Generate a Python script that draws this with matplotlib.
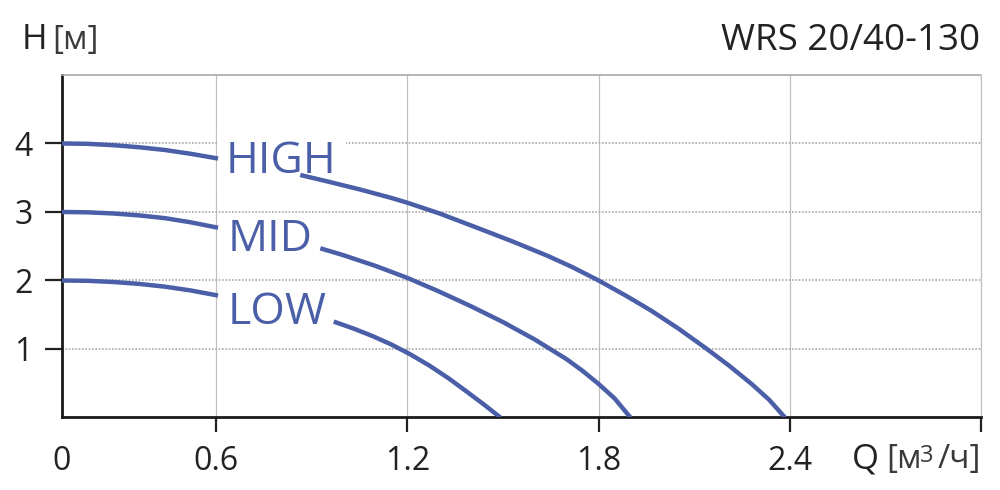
import numpy as np
import matplotlib
matplotlib.use('Agg')
import matplotlib.pyplot as plt

plt.rcParams['font.family'] = ['Open Sans', 'DejaVu Sans']

# Pump curves (Q in m3/h, H in m); each curve is broken at its label
high_q1 = [0.0, 0.1, 0.2, 0.3, 0.4, 0.5, 0.606]
high_h1 = [4.0, 3.995, 3.975, 3.945, 3.905, 3.85, 3.78]
high_q2 = [0.864, 0.95, 1.05, 1.15, 1.2, 1.3, 1.43, 1.53, 1.64, 1.72, 1.8,
           1.885, 1.965, 2.05, 2.14, 2.21, 2.28, 2.335, 2.385]
high_h2 = [3.54, 3.445, 3.33, 3.205, 3.135, 2.98, 2.75, 2.57, 2.36, 2.19, 2.0,
           1.78, 1.56, 1.30, 1.0, 0.755, 0.49, 0.26, 0.0]

mid_q1 = [0.0, 0.1, 0.2, 0.3, 0.4, 0.5, 0.606]
mid_h1 = [3.0, 2.995, 2.978, 2.95, 2.91, 2.85, 2.77]
mid_q2 = [0.927, 1.0, 1.1, 1.2, 1.3, 1.4, 1.5, 1.6, 1.7, 1.75, 1.8, 1.85, 1.9]
mid_h2 = [2.47, 2.368, 2.213, 2.038, 1.838, 1.623, 1.393, 1.138, 0.85, 0.68,
          0.49, 0.28, 0.0]

low_q1 = [0.0, 0.1, 0.2, 0.3, 0.4, 0.5, 0.606]
low_h1 = [2.0, 1.995, 1.978, 1.95, 1.91, 1.855, 1.78]
low_q2 = [0.969, 1.03, 1.09, 1.15, 1.21, 1.27, 1.33, 1.39, 1.44, 1.492]
low_h2 = [1.40, 1.30, 1.19, 1.065, 0.92, 0.755, 0.57, 0.365, 0.19, 0.0]

x_ticks = [0, 0.6, 1.2, 1.8, 2.4, 3.0]
x_labels = ['0', '0.6', '1.2', '1.8', '2.4', '']
y_ticks = [1, 2, 3, 4]

blue = '#4a5fa8'
dark = '#222222'
grey = '#3a3a3a'

# first interval (0..0.6) is drawn narrower than the others
k = 0.806
def fwd(q):
    q = np.asarray(q, dtype=float)
    return np.where(q <= 0.6, q * k, q - 0.6 * (1 - k))
def inv(u):
    u = np.asarray(u, dtype=float)
    return np.where(u <= 0.6 * k, u / k, u + 0.6 * (1 - k))

fig = plt.figure(figsize=(10, 4.9), dpi=100)
ax = fig.add_axes([0.062, 0.148, 0.919, 0.699])
ax.set_xscale('function', functions=(fwd, inv))
ax.set_xlim(0, 3.0)
ax.set_ylim(0, 5)

for q, h in [(high_q1, high_h1), (high_q2, high_h2),
             (mid_q1, mid_h1), (mid_q2, mid_h2),
             (low_q1, low_h1), (low_q2, low_h2)]:
    ax.plot(q, h, color=blue, lw=3.2, solid_capstyle='butt',
            solid_joinstyle='round', zorder=3)

ax.set_xticks(x_ticks)
ax.set_xticklabels(x_labels)
ax.set_yticks(y_ticks)
ax.tick_params(axis='x', direction='out', length=11, width=1.6, pad=9,
               labelsize=23, colors=dark)
ax.tick_params(axis='y', direction='out', length=12, width=1.6, pad=9,
               labelsize=23, colors=dark)
ax.xaxis.get_major_ticks()[0].tick1line.set_visible(False)

ax.grid(axis='x', color='#c0c0c0', lw=0.9, ls='-')
ax.grid(axis='y', color='#a8a8a8', lw=1.2, ls=(0, (1, 1)))
ax.set_axisbelow(True)

for s in ['left', 'bottom']:
    ax.spines[s].set_color('#1a1a1a')
    ax.spines[s].set_linewidth(2)
ax.spines['top'].set_color('#a8a8a8')
ax.spines['top'].set_linestyle((0, (1, 1)))
ax.spines['top'].set_linewidth(1.2)
ax.spines['right'].set_color('#c0c0c0')
ax.spines['right'].set_linewidth(0.9)

lab = dict(color=blue, fontsize=32, ha='left', va='baseline', zorder=2.5)
ax.text(0.631, 3.574, 'HIGH',
        bbox=dict(boxstyle='square,pad=0.2', fc='white', ec='none'), **lab)
ax.text(0.635, 2.43, 'MID', **lab)
ax.text(0.635, 1.363, 'LOW', **lab)

W, Hh = 1000, 490
fig.text(22 / W, 1 - 49 / Hh, 'H', fontsize=25, color=dark, va='baseline')
fig.text(52 / W, 1 - 49 / Hh, '[м]', fontsize=24, color=grey, va='baseline')
fig.text(980 / W, 1 - 50 / Hh, 'WRS 20/40-130', fontsize=26.5, color=dark,
         ha='right', va='baseline')
fig.text(852 / W, 1 - 468 / Hh, 'Q', fontsize=25, color=dark, va='baseline')
fig.text(886 / W, 1 - 468 / Hh, '[м', fontsize=24, color=grey, va='baseline')
fig.text(920 / W, 1 - 462 / Hh, '3', fontsize=17, color=grey, va='baseline')
fig.text(981 / W, 1 - 468 / Hh, '/ч]', fontsize=24, color=grey,
         ha='right', va='baseline')

fig.savefig('out.png', dpi=100, facecolor='white')
